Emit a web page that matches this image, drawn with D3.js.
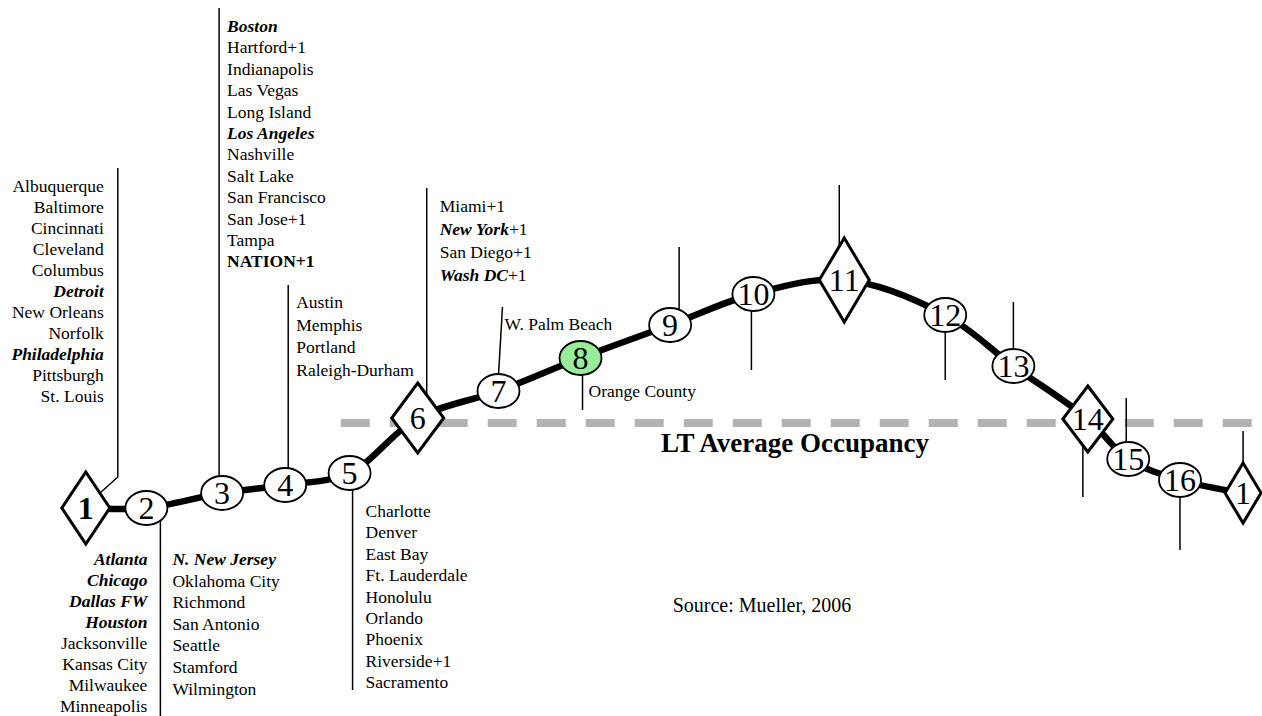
<!DOCTYPE html>
<html>
<head>
<meta charset="utf-8">
<script src="https://cdn.jsdelivr.net/npm/d3@7"></script>
<style>
  body { margin: 0; background: #fff; }
  svg { display: block; }
  text { font-family: "Liberation Serif", "Times New Roman", serif; fill: #000; }
</style>
</head>
<body>
<script>
// hotel cycle clock: phase positions along the cycle and occupancy vs LT average
var phases = ["1", "2", "3", "4", "5", "6", "7", "8", "9", "10", "11", "12", "13", "14", "15", "16", "1"];
var cyclePos = [6.8, 11.6, 17.6, 22.6, 27.7, 33.1, 39.5, 46.0, 53.1, 59.7, 66.9, 74.9, 80.3, 86.2, 89.4, 93.5, 98.5];
var occVsAvg = [-8.5, -8.5, -7.0, -6.2, -5.0, 0.5, 3.2, 6.5, 9.8, 12.9, 14.3, 10.8, 5.7, 0.4, -3.6, -5.7, -7.0];
var markerShape = ["diamond", "ellipse", "ellipse", "ellipse", "ellipse", "diamond", "ellipse", "ellipse",
  "ellipse", "ellipse", "diamond", "ellipse", "ellipse", "diamond", "ellipse", "ellipse", "diamond"];
var highlightPhase = 7; // index of the phase with the green marker

// markets at each phase (*x* = bold italic, ! = bold)
var marketsPhase1 = ["Albuquerque", "Baltimore", "Cincinnati", "Cleveland", "Columbus", "*Detroit*",
  "New Orleans", "Norfolk", "*Philadelphia*", "Pittsburgh", "St. Louis"];
var marketsPhase2a = ["*Atlanta*", "*Chicago*", "*Dallas FW*", "*Houston*", "Jacksonville", "Kansas City",
  "Milwaukee", "Minneapolis"];
var marketsPhase2b = ["*N. New Jersey*", "Oklahoma City", "Richmond", "San Antonio", "Seattle", "Stamford", "Wilmington"];
var marketsPhase3 = ["*Boston*", "Hartford+1", "Indianapolis", "Las Vegas", "Long Island", "*Los Angeles*",
  "Nashville", "Salt Lake", "San Francisco", "San Jose+1", "Tampa", "!NATION+1"];
var marketsPhase4 = ["Austin", "Memphis", "Portland", "Raleigh-Durham"];
var marketsPhase5 = ["Charlotte", "Denver", "East Bay", "Ft. Lauderdale", "Honolulu", "Orlando", "Phoenix",
  "Riverside+1", "Sacramento"];
var marketsPhase6 = ["Miami+1", "*New York*+1", "San Diego+1", "*Wash DC*+1"];
var marketsPhase7 = ["W. Palm Beach"];
var marketsPhase8 = ["Orange County"];

var avgLabel = "LT Average Occupancy";
var sourceLabel = "Source: Mueller, 2006";

var width = 1262, height = 716;

var x = d3.scaleLinear().domain([0, 100]).range([0, width]);
var y = d3.scaleLinear().domain([-29.3, 42.3]).range([height, 0]);

var svg = d3.select("body").append("svg")
  .attr("width", width)
  .attr("height", height)
  .attr("viewBox", [0, 0, width, height]);

var nodes = phases.map(function (p, i) {
  return { label: p, shape: markerShape[i], px: x(cyclePos[i]), py: y(occVsAvg[i]), i: i };
});

// long term average line
svg.append("line")
  .attr("x1", x(27)).attr("x2", width)
  .attr("y1", y(0)).attr("y2", y(0))
  .attr("stroke", "#b3b3b3")
  .attr("stroke-width", 8)
  .attr("stroke-dasharray", "29 20");

// leader lines, offsets from the marker centre
var leaders = [
  { n: 0, pts: [[12, -13], [32, -31], [32, -340]] },
  { n: 1, pts: [[14, 12], [14, 210]] },
  { n: 2, pts: [[-3, -16], [-3, -485]] },
  { n: 3, pts: [[3, -16], [3, -200]] },
  { n: 4, pts: [[3, 16], [3, 217]] },
  { n: 5, pts: [[9, -23], [9, -230]] },
  { n: 6, pts: [[0, -16], [4, -84]] },
  { n: 7, pts: [[2, 17], [2, 52]] },
  { n: 8, pts: [[9, -15], [9, -78]] },
  { n: 9, pts: [[-2, 17], [-2, 76]] },
  { n: 10, pts: [[-5, -34], [-5, -95]] },
  { n: 11, pts: [[0, 17], [0, 65]] },
  { n: 12, pts: [[0, -17], [0, -64]] },
  { n: 13, pts: [[-5, 27], [-5, 78]] },
  { n: 14, pts: [[-2, -17], [-2, -61]] },
  { n: 15, pts: [[0, 17], [0, 70]] },
  { n: 16, pts: [[0, -29], [0, -62]] }
];

var leaderLine = d3.line();
svg.append("g").selectAll("path")
  .data(leaders)
  .join("path")
  .attr("d", function (d) {
    var c = nodes[d.n];
    return leaderLine(d.pts.map(function (p) { return [c.px + p[0], c.py + p[1]]; }));
  })
  .attr("fill", "none")
  .attr("stroke", "#000")
  .attr("stroke-width", 1.5);

// the cycle curve
var curve = d3.line()
  .x(function (d) { return d.px; })
  .y(function (d) { return d.py; })
  .curve(d3.curveCatmullRom.alpha(0.5));

svg.append("path")
  .attr("d", curve(nodes))
  .attr("fill", "none")
  .attr("stroke", "#000")
  .attr("stroke-width", 6.5);

// markers
var diamondSize = { 0: [24, 36], 5: [26, 35], 10: [25, 42], 13: [25, 33], 16: [18, 30] };

var mk = svg.append("g").selectAll("g")
  .data(nodes)
  .join("g")
  .attr("transform", function (d) { return "translate(" + d.px + "," + d.py + ")"; });

mk.filter(function (d) { return d.shape === "diamond"; })
  .append("path")
  .attr("d", function (d) {
    var s = diamondSize[d.i];
    return "M0," + (-s[1]) + "L" + s[0] + ",0L0," + s[1] + "L" + (-s[0]) + ",0Z";
  })
  .attr("fill", "#fff")
  .attr("stroke", "#000")
  .attr("stroke-width", 3)
  .attr("stroke-linejoin", "miter");

mk.filter(function (d) { return d.shape === "ellipse"; })
  .append("ellipse")
  .attr("rx", 21)
  .attr("ry", 17)
  .attr("fill", function (d) { return d.i === highlightPhase ? "#98ee98" : "#fff"; })
  .attr("stroke", "#000")
  .attr("stroke-width", 1.8);

mk.append("text")
  .attr("text-anchor", "middle")
  .attr("y", 11)
  .style("font-size", "32px")
  .style("font-weight", function (d) { return d.i === 0 ? "bold" : "normal"; })
  .text(function (d) { return d.label; });

// market lists
function writeList(list, n, dx, dy, step, anchor) {
  var c = nodes[n];
  var g = svg.append("g");
  list.forEach(function (name, k) {
    var t = g.append("text")
      .attr("x", c.px + dx)
      .attr("y", c.py + dy + k * step)
      .attr("text-anchor", anchor)
      .style("font-size", "17.5px");
    if (name[0] === "!") {
      t.style("font-weight", "bold").text(name.slice(1));
      return;
    }
    name.split(/(\*[^*]+\*)/).forEach(function (part) {
      if (!part) return;
      if (part[0] === "*") {
        t.append("tspan").style("font-weight", "bold").style("font-style", "italic")
          .text(part.slice(1, -1));
      } else {
        t.append("tspan").text(part);
      }
    });
  });
}

writeList(marketsPhase1, 0, 18, -316, 21, "end");
writeList(marketsPhase2a, 1, 1, 57, 21, "end");
writeList(marketsPhase2b, 1, 26, 57, 21.6, "start");
writeList(marketsPhase3, 2, 5, -461, 21.4, "start");
writeList(marketsPhase4, 3, 11, -177, 22.7, "start");
writeList(marketsPhase5, 4, 16, 44, 21.4, "start");
writeList(marketsPhase6, 5, 22, -206, 23, "start");
writeList(marketsPhase7, 6, 6, -61, 21, "start");
writeList(marketsPhase8, 7, 8, 39, 21, "start");

svg.append("text")
  .attr("x", x(63))
  .attr("y", y(-2.9))
  .attr("text-anchor", "middle")
  .style("font-size", "27px")
  .style("font-weight", "bold")
  .text(avgLabel);

svg.append("text")
  .attr("x", x(53.3))
  .attr("y", y(-18.9))
  .style("font-size", "20px")
  .text(sourceLabel);
</script>
</body>
</html>
